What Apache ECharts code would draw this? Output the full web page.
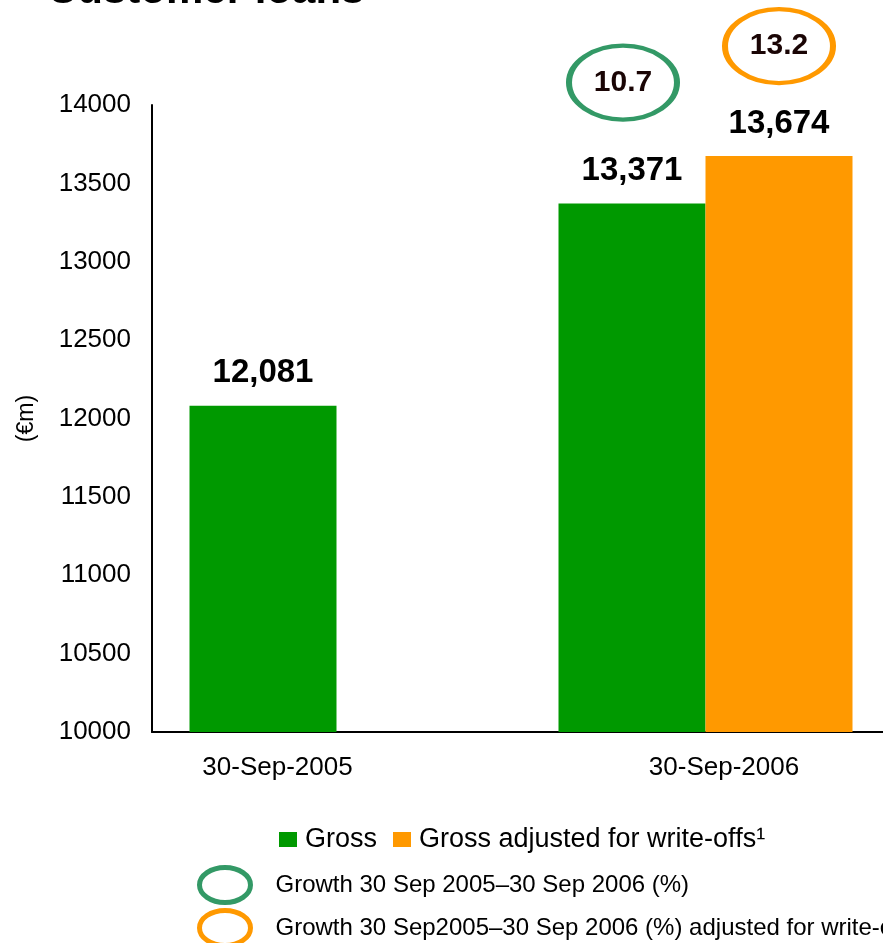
<!DOCTYPE html>
<html>
<head>
<meta charset="utf-8">
<title>Customer loans</title>
<script src="https://cdn.jsdelivr.net/npm/echarts@6/dist/echarts.min.js"></script>
<style>
  html, body { margin: 0; padding: 0; background: #fff; }
  #chart { width: 883px; height: 943px; }
</style>
</head>
<body>
<div id="chart"></div>
<script>
// Customer loans (€m) at two reporting dates
const categories = ['30-Sep-2005', '30-Sep-2006'];
const grossLoans = [12081, 13371];
const adjustedLoans = [null, 13674];
const seriesNames = ['Gross', 'Gross adjusted for write-offs¹'];
// Year-on-year growth (%), shown in the ellipses above the 2006 bars
const growthGross = 10.7;
const growthAdjusted = 13.2;
const growthNames = [
  'Growth 30 Sep 2005–30 Sep 2006 (%)',
  'Growth 30 Sep2005–30 Sep 2006 (%) adjusted for write-offs¹'
];
const yTicks = { min: 10000, max: 14000, step: 500 };

const FONT = '"Liberation Sans", Arial, Helvetica, sans-serif';
const GREEN = '#009900';
const ORANGE = '#FF9900';
const RING_GREEN = '#339966';
const RING_ORANGE = '#FF9900';
// Ellipse outline (aspect ~1.46) used for the growth rings and their legend icons
const ELLIPSE = 'path://M54,0 C83.82,0 108,16.56 108,37 C108,57.44 83.82,74 54,74 C24.18,74 0,57.44 0,37 C0,16.56 24.18,0 54,0 Z';

const fmt = v => Number(v).toLocaleString('en-US');

const ringPoint = (cat, barValue, growth, offset) => ({
  coord: [cat, barValue],
  value: growth,
  symbolOffset: offset
});

const barLabel = {
  show: true,
  position: 'top',
  distance: 16,
  fontFamily: FONT,
  fontSize: 33,
  fontWeight: 'bold',
  color: '#000',
  formatter: p => fmt(p.value)
};

const ringLabel = {
  show: true,
  position: 'inside',
  fontFamily: FONT,
  fontSize: 30,
  fontWeight: 'bold',
  color: '#1a0505',
  formatter: p => String(p.value)
};

const chart = echarts.init(document.getElementById('chart'), null, { renderer: 'canvas' });

chart.setOption({
  animation: false,
  backgroundColor: '#ffffff',
  textStyle: { fontFamily: FONT },
  title: {
    text: 'Customer loans',
    left: 47,
    top: -30,
    padding: 0,
    textStyle: { fontFamily: FONT, fontSize: 42, fontWeight: 'bold', color: '#000' }
  },
  grid: {
    left: 152, top: 105, width: 738, bottom: 211,
    containLabel: false,
    outerBoundsMode: 'none'
  },
  legend: [
    {
      data: seriesNames,
      left: 279,
      top: 826,
      padding: 0,
      orient: 'horizontal',
      icon: 'rect',
      itemWidth: 18,
      itemHeight: 15,
      itemGap: 16,
      selectedMode: false,
      textStyle: { fontFamily: FONT, fontSize: 27, color: '#000', padding: [0, 0, 0, 3] }
    },
    {
      data: [
        { name: growthNames[0], icon: ELLIPSE,
          itemStyle: { color: 'rgba(0,0,0,0)', borderColor: RING_GREEN, borderWidth: 5, opacity: 1 } },
        { name: growthNames[1], icon: ELLIPSE,
          itemStyle: { color: 'rgba(0,0,0,0)', borderColor: RING_ORANGE, borderWidth: 5, opacity: 1 } }
      ],
      left: 197,
      top: 865,
      width: 900,
      height: 140,
      padding: 0,
      orient: 'vertical',
      itemWidth: 51,
      itemHeight: 35,
      itemGap: 3,
      selectedMode: false,
      textStyle: { fontFamily: FONT, fontSize: 24, color: '#000', padding: [0, 0, 0, 20] }
    }
  ],
  xAxis: {
    type: 'category',
    data: categories,
    axisLine: { lineStyle: { color: '#000', width: 2 } },
    axisTick: { show: false },
    axisLabel: {
      margin: 23,
      fontFamily: FONT,
      fontSize: 26,
      color: '#000',
      formatter: (v, i) => (i === 0 ? '{a|' + v + '}' : '{b|' + v + '}'),
      rich: {
        a: { fontFamily: FONT, fontSize: 26, color: '#000', padding: [0, 118, 0, 0] },
        b: { fontFamily: FONT, fontSize: 26, color: '#000', padding: [0, 0, 0, 37] }
      }
    },
    splitLine: { show: false }
  },
  yAxis: {
    type: 'value',
    min: yTicks.min,
    max: yTicks.max,
    interval: yTicks.step,
    name: '(€m)',
    nameLocation: 'middle',
    nameRotate: 90,
    nameGap: 114,
    nameTextStyle: { fontFamily: FONT, fontSize: 23, color: '#000' },
    axisLine: { show: true, lineStyle: { color: '#000', width: 2 } },
    axisTick: { show: false },
    axisLabel: {
      margin: 21, fontFamily: FONT, fontSize: 26, color: '#000',
      formatter: v => String(v)
    },
    splitLine: { show: false }
  },
  series: [
    {
      name: seriesNames[0],
      type: 'bar',
      data: grossLoans,
      barWidth: 147,
      barGap: '0%',
      itemStyle: { color: GREEN },
      label: barLabel,
      markPoint: {
        silent: true,
        symbol: ELLIPSE,
        symbolSize: [108, 74],
        itemStyle: { color: 'rgba(0,0,0,0)', borderColor: RING_GREEN, borderWidth: 5 },
        label: ringLabel,
        data: [ringPoint(categories[1], grossLoans[1], growthGross, [-9, -121])]
      }
    },
    {
      name: seriesNames[1],
      type: 'bar',
      data: adjustedLoans,
      barWidth: 147,
      barGap: '0%',
      itemStyle: { color: ORANGE },
      label: barLabel,
      markPoint: {
        silent: true,
        symbol: ELLIPSE,
        symbolSize: [108, 74],
        itemStyle: { color: 'rgba(0,0,0,0)', borderColor: RING_ORANGE, borderWidth: 5 },
        label: ringLabel,
        data: [ringPoint(categories[1], adjustedLoans[1], growthAdjusted, [0, -110])]
      }
    },
    // Legend-only entries for the growth rings
    { name: growthNames[0], type: 'scatter', data: [], itemStyle: { opacity: 1, color: RING_GREEN } },
    { name: growthNames[1], type: 'scatter', data: [], itemStyle: { opacity: 1, color: RING_ORANGE } }
  ]
});
</script>
</body>
</html>
